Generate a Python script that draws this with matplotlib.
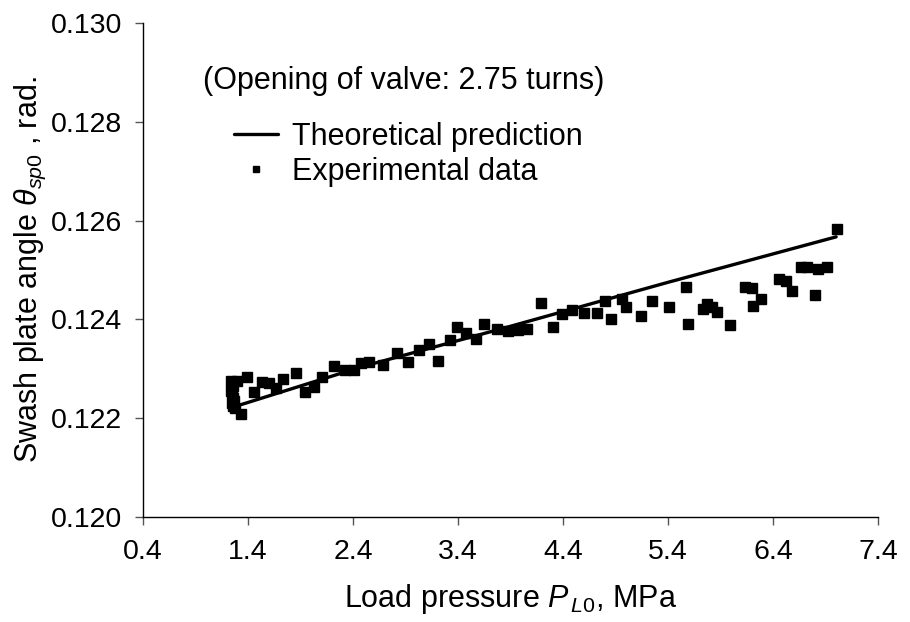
import matplotlib
matplotlib.use("Agg")
import matplotlib.pyplot as plt
import numpy as np

plt.rcParams['font.family'] = ['Liberation Sans', 'DejaVu Sans']
plt.rcParams['mathtext.fontset'] = 'custom'
plt.rcParams['mathtext.rm'] = 'Liberation Sans'
plt.rcParams['mathtext.it'] = 'Liberation Sans:italic'

# theoretical prediction
theory_p = [1.30, 2.50, 3.85, 5.40, 7.00]
theory_angle = [0.12225, 0.12305, 0.12383, 0.12475, 0.12567]

# experimental data
exp_p = [1.24, 1.25, 1.26, 1.25, 1.24, 1.25, 1.26, 1.27, 1.25, 1.26, 1.28, 1.30, 1.33,
         1.39, 1.46, 1.53, 1.60, 1.67, 1.73, 1.86, 1.94, 2.03, 2.11, 2.22, 2.32,
         2.41, 2.48, 2.55, 2.69, 2.82, 2.92, 3.03, 3.12, 3.21, 3.32, 3.39, 3.48,
         3.57, 3.65, 3.77, 3.88, 3.97, 4.06, 4.19, 4.30, 4.39, 4.49, 4.60, 4.72,
         4.80, 4.86, 4.96, 5.00, 5.14, 5.25, 5.41, 5.57, 5.59, 5.73, 5.77, 5.82,
         5.87, 5.99, 6.13, 6.20, 6.21, 6.28, 6.46, 6.52, 6.58, 6.67, 6.72, 6.80,
         6.83, 6.91, 7.01]
exp_angle = [0.12275, 0.12270, 0.12265, 0.12260, 0.12255, 0.12250, 0.12240, 0.12235,
             0.12230, 0.12225, 0.12220, 0.12275, 0.12208,
             0.12283, 0.12253, 0.12273, 0.12271, 0.12261, 0.12279, 0.12291, 0.12253,
             0.12263, 0.12283, 0.12306, 0.12298, 0.12298, 0.12312, 0.12314, 0.12308,
             0.12332, 0.12314, 0.12338, 0.12350, 0.12316, 0.12358, 0.12385, 0.12372,
             0.12360, 0.12391, 0.12381, 0.12376, 0.12378, 0.12380, 0.12433, 0.12385,
             0.12411, 0.12419, 0.12413, 0.12413, 0.12437, 0.12401, 0.12441, 0.12425,
             0.12407, 0.12437, 0.12425, 0.12466, 0.12391, 0.12421, 0.12431, 0.12425,
             0.12415, 0.12389, 0.12466, 0.12464, 0.12427, 0.12441, 0.12482, 0.12478,
             0.12457, 0.12506, 0.12506, 0.12449, 0.12502, 0.12506, 0.12583]

x_ticks = [0.4, 1.4, 2.4, 3.4, 4.4, 5.4, 6.4, 7.4]
y_ticks = [0.120, 0.122, 0.124, 0.126, 0.128, 0.130]

fig = plt.figure(figsize=(9.1, 6.22), dpi=100)
ax = fig.add_axes([0.157, 0.169, 0.808, 0.794])

ax.plot(theory_p, theory_angle, color='black', lw=2.4, solid_capstyle='round',
        label='Theoretical prediction')
ax.plot(exp_p, exp_angle, ls='none', marker='s', ms=6.5, color='black',
        label='Experimental data')

ax.set_xlim(0.4, 7.4)
ax.set_ylim(0.120, 0.130)
ax.set_xticks(x_ticks)
ax.set_xticklabels(['%.1f' % v for v in x_ticks])
ax.set_yticks(y_ticks)
ax.set_yticklabels(['%.3f' % v for v in y_ticks])
ax.tick_params(axis='both', labelsize=20.5, direction='out', length=6, width=1, color='#555555')
ax.tick_params(axis='x', pad=10)
ax.tick_params(axis='y', pad=9)

for s in ['top', 'right']:
    ax.spines[s].set_visible(False)
for s in ['left', 'bottom']:
    ax.spines[s].set_linewidth(1)

ax.set_xlabel('Load pressure $P_{\\,L0}$, MPa', fontsize=22, labelpad=12)
ax.set_ylabel('Swash plate angle $\\theta_{sp0}$ , rad.', fontsize=22, labelpad=2)

ax.text(0.082, 0.882, '(Opening of valve: 2.75 turns)', transform=ax.transAxes,
        fontsize=22, va='center', ha='left')

ax.legend(loc='upper left', bbox_to_anchor=(0.107, 0.825), frameon=False, fontsize=22,
          handlelength=1.45, handletextpad=0.45, labelspacing=0.18, markerscale=0.7,
          borderaxespad=0)

fig.savefig('out.png', dpi=100)
